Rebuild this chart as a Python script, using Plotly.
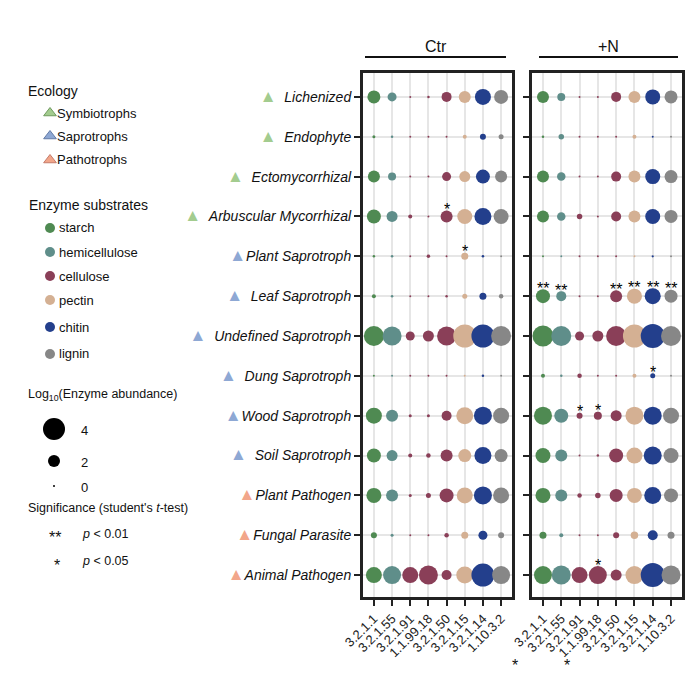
import plotly.graph_objects as go

# ---------------- data ----------------
functions = ["Lichenized", "Endophyte", "Ectomycorrhizal", "Arbuscular Mycorrhizal",
             "Plant Saprotroph", "Leaf Saprotroph", "Undefined Saprotroph", "Dung Saprotroph",
             "Wood Saprotroph", "Soil Saprotroph", "Plant Pathogen", "Fungal Parasite",
             "Animal Pathogen"]
ecology = ["Symbiotrophs"] * 4 + ["Saprotrophs"] * 6 + ["Pathotrophs"] * 3
enzymes = ["3.2.1.1", "3.2.1.55", "3.2.1.91", "1.1.99.18", "3.2.1.50", "3.2.1.15",
           "3.2.1.14", "1.10.3.2"]
enzyme_substrate = ["starch", "hemicellulose", "cellulose", "cellulose", "cellulose",
                    "pectin", "chitin", "lignin"]
substrates = ["starch", "hemicellulose", "cellulose", "pectin", "chitin", "lignin"]

# log10(enzyme abundance), rows = functions, cols = enzymes
log_ctr = [
    [2.2, 1.4, 0.0, 0.1, 1.6, 2.0, 2.8, 2.4],
    [0.2, 0.1, 0.0, 0.0, 0.0, 0.4, 0.8, 0.6],
    [2.0, 1.2, 0.0, 0.0, 1.4, 1.8, 2.4, 2.0],
    [2.4, 1.8, 0.4, 0.0, 2.0, 2.6, 3.0, 2.6],
    [0.1, 0.1, 0.0, 0.3, 0.0, 1.0, 0.1, 0.0],
    [0.4, 0.1, 0.0, 0.0, 0.1, 0.6, 1.0, 0.5],
    [3.6, 3.4, 1.4, 1.8, 3.4, 4.2, 4.2, 3.6],
    [0.0, 0.0, 0.0, 0.0, 0.0, 0.0, 0.1, 0.0],
    [2.8, 2.0, 0.2, 0.2, 1.6, 3.0, 3.2, 2.8],
    [2.4, 1.8, 0.4, 0.5, 2.0, 2.2, 3.0, 2.2],
    [2.6, 2.0, 0.2, 0.6, 2.4, 2.8, 3.2, 2.8],
    [0.8, 0.2, 0.0, 0.0, 0.5, 1.0, 1.4, 0.8],
    [2.8, 3.2, 2.8, 3.4, 1.6, 3.0, 4.2, 3.2],
]
log_n = [
    [2.0, 1.2, 0.0, 0.0, 1.6, 2.0, 2.6, 2.2],
    [0.1, 0.7, 0.0, 0.0, 0.0, 0.4, 0.0, 0.0],
    [2.0, 1.3, 0.0, 0.0, 1.6, 2.0, 2.6, 2.2],
    [2.0, 1.3, 0.7, 0.0, 1.6, 2.0, 2.6, 2.2],
    [0.0, 0.0, 0.0, 0.0, 0.0, 0.0, 0.05, 0.0],
    [2.4, 1.6, 0.0, 0.0, 2.0, 2.6, 2.8, 2.2],
    [3.8, 3.6, 1.4, 1.8, 3.6, 4.2, 4.4, 3.6],
    [0.4, 0.1, 0.5, 0.0, 0.0, 0.4, 0.6, 0.0],
    [3.2, 2.4, 0.8, 1.2, 1.8, 3.2, 3.2, 2.8],
    [2.6, 2.0, 0.0, 0.1, 2.4, 2.8, 3.2, 2.6],
    [2.6, 2.0, 0.5, 0.7, 2.2, 2.6, 3.0, 2.4],
    [1.0, 0.4, 0.0, 0.0, 0.8, 1.1, 1.6, 1.0],
    [3.2, 3.4, 2.8, 3.2, 1.8, 3.2, 4.4, 3.4],
]
sig_ctr = [("Arbuscular Mycorrhizal", "3.2.1.50", "*"),
           ("Plant Saprotroph", "3.2.1.15", "*")]
sig_n = [("Leaf Saprotroph", "3.2.1.1", "**"), ("Leaf Saprotroph", "3.2.1.55", "**"),
         ("Leaf Saprotroph", "3.2.1.50", "**"), ("Leaf Saprotroph", "3.2.1.15", "**"),
         ("Leaf Saprotroph", "3.2.1.14", "**"), ("Leaf Saprotroph", "1.10.3.2", "**"),
         ("Dung Saprotroph", "3.2.1.14", "*"), ("Wood Saprotroph", "3.2.1.91", "*"),
         ("Wood Saprotroph", "1.1.99.18", "*"), ("Animal Pathogen", "1.1.99.18", "*")]
legend_sizes = [4, 2, 0]

# ---------------- styles ----------------
sub_color = {"starch": "#4f8a52", "hemicellulose": "#5f8e8a", "cellulose": "#8a3f58",
             "pectin": "#d4b093", "chitin": "#233f8c", "lignin": "#878787"}
eco_color = {"Symbiotrophs": "#a3cc8f", "Saprotrophs": "#8ea8d4", "Pathotrophs": "#f2a68a"}
eco_edge = {"Symbiotrophs": "#6f9a5e", "Saprotrophs": "#627aa6", "Pathotrophs": "#c57b6a"}
FONT = "Liberation Sans, Arial, sans-serif"
OFF = 8                      # page body margin in the browser
W, H = 700 - OFF, 680 - OFF  # figure fills the visible window


def dsize(v):
    return 2 + 5 * v


def px(x):
    return (x - OFF) / W


def py(y):
    return 1 - (y - OFF) / H


fig = go.Figure()

panels = [("x", "y", log_ctr, sig_ctr), ("x2", "y2", log_n, sig_n)]
annotations = []
for xa, ya, mat, sigs in panels:
    for sub in substrates:
        xs, ys, ss = [], [], []
        for i, f in enumerate(functions):
            for j, e in enumerate(enzymes):
                if enzyme_substrate[j] == sub:
                    xs.append(j + 1)
                    ys.append(i + 1)
                    ss.append(dsize(mat[i][j]))
        fig.add_trace(go.Scatter(x=xs, y=ys, mode="markers", xaxis=xa, yaxis=ya,
                                 marker=dict(size=ss, color=sub_color[sub], opacity=1,
                                             line=dict(width=0)),
                                 showlegend=False, hoverinfo="skip"))
    for f, e, s in sigs:
        i = functions.index(f)
        j = enzymes.index(e)
        annotations.append(dict(x=j + 1, y=i + 1, xref=xa, yref=ya, text=s,
                                showarrow=False, yanchor="middle",
                                yshift=dsize(mat[i][j]) / 2 + 1,
                                font=dict(size=16, color="#000", family=FONT)))

# y tick labels with ecology triangles
nospace = {"Plant Saprotroph", "Wood Saprotroph", "Plant Pathogen", "Fungal Parasite",
           "Animal Pathogen"}
ticktext = []
for f, eco in zip(functions, ecology):
    sep = "" if f in nospace else "  "
    ticktext.append('<span style="font-size:17px;color:%s">▲</span>%s<i>%s</i>'
                    % (eco_color[eco], sep, f))

axis_common = dict(range=[0.4, 8.6], tickmode="array", tickvals=list(range(1, 9)),
                   ticktext=enzymes, tickangle=-45, ticks="outside", ticklen=6,
                   tickwidth=2, tickcolor="#222", showline=True, linewidth=3,
                   linecolor="#222", mirror=True, showgrid=True, gridcolor="#e6e6e6",
                   gridwidth=2, zeroline=False, automargin=False,
                   tickfont=dict(size=13, color="#222", family=FONT))
yaxis_common = dict(range=[13.55, 0.4], tickmode="array", tickvals=list(range(1, 14)),
                    ticks="outside", ticklen=6, tickwidth=2, tickcolor="#222",
                    showline=True, linewidth=3, linecolor="#222", mirror=True,
                    showgrid=True, gridcolor="#e6e6e6", gridwidth=2, zeroline=False,
                    automargin=False)
ydom = [py(597), py(73)]

fig.update_layout(
    xaxis=dict(domain=[px(363), px(512)], anchor="y", **axis_common),
    xaxis2=dict(domain=[px(532), px(682)], anchor="y2", **axis_common),
    yaxis=dict(domain=ydom, anchor="x", ticktext=ticktext, showticklabels=True,
               tickfont=dict(size=14, color="#111", family=FONT), **yaxis_common),
    yaxis2=dict(domain=ydom, anchor="x2", showticklabels=False, ticktext=functions,
                **yaxis_common),
    xaxis3=dict(domain=[0, 1], range=[OFF, 700], visible=False, anchor="y3",
                fixedrange=True, automargin=False),
    yaxis3=dict(domain=[0, 1], range=[680, OFF], visible=False, anchor="x3",
                fixedrange=True, automargin=False),
)

# ---------------- left legend ----------------
eco_names = ["Symbiotrophs", "Saprotrophs", "Pathotrophs"]
eco_y = [113, 136, 160]
fig.add_trace(go.Scatter(x=[50] * 3, y=eco_y, xaxis="x3", yaxis="y3", mode="markers",
                         marker=dict(symbol="triangle-up", size=11, opacity=1,
                                     color=[eco_color[e] for e in eco_names],
                                     line=dict(width=1, color=[eco_edge[e] for e in eco_names])),
                         showlegend=False, hoverinfo="skip"))
sub_y = [228, 252, 276, 300, 327, 354]
fig.add_trace(go.Scatter(x=[50] * 6, y=sub_y, xaxis="x3", yaxis="y3", mode="markers",
                         marker=dict(size=10, opacity=1,
                                     color=[sub_color[s] for s in substrates],
                                     line=dict(width=0)),
                         showlegend=False, hoverinfo="skip"))
size_y = [429, 461, 486]
fig.add_trace(go.Scatter(x=[54] * 3, y=size_y, xaxis="x3", yaxis="y3", mode="markers",
                         marker=dict(size=[dsize(v) for v in legend_sizes], color="#000",
                                     opacity=1, line=dict(width=0)),
                         showlegend=False, hoverinfo="skip"))


def txt(x, y, s, size=12, xanchor="left"):
    annotations.append(dict(x=px(x), y=py(y), xref="paper", yref="paper", text=s,
                            showarrow=False, xanchor=xanchor, yanchor="middle",
                            font=dict(size=size, color="#111", family=FONT)))


txt(26, 91, "Ecology", 14)
for e, y in zip(eco_names, eco_y):
    txt(55, y, e, 13)
txt(27, 205, "Enzyme substrates", 14)
for s, y in zip(substrates, sub_y):
    txt(57, y, s, 13)
txt(26, 395, "Log<sub>10</sub>(Enzyme abundance)", 12.5)
for v, y in zip(legend_sizes, size_y):
    txt(79, y + 1, str(v), 13)
txt(26, 508, "Significance (student's <i>t</i>-test)", 12.5)
txt(55, 537, "**", 16, xanchor="center")
txt(80, 534, "<i>p</i> &lt; 0.01", 12.5)
txt(57, 565, "*", 16, xanchor="center")
txt(80, 561, "<i>p</i> &lt; 0.05", 12.5)

# stray asterisks below axis labels
txt(515, 665, "*", 16, xanchor="center")
txt(567, 665, "*", 16, xanchor="center")

# panel titles
txt(436, 46, "Ctr", 16, xanchor="center")
txt(608, 46, "+N", 16, xanchor="center")
shapes = [
    dict(type="line", xref="paper", yref="paper", x0=px(365), x1=px(506), y0=py(57),
         y1=py(57), line=dict(color="#111", width=2)),
    dict(type="line", xref="paper", yref="paper", x0=px(539), x1=px(678), y0=py(57),
         y1=py(57), line=dict(color="#111", width=2)),
]

fig.update_layout(width=W, height=H,
                  margin=dict(l=0, r=0, t=0, b=0, pad=0, autoexpand=False),
                  paper_bgcolor="white", plot_bgcolor="rgba(0,0,0,0)",
                  annotations=annotations, shapes=shapes, showlegend=False,
                  font=dict(family=FONT))

fig.write_html("out.html")
